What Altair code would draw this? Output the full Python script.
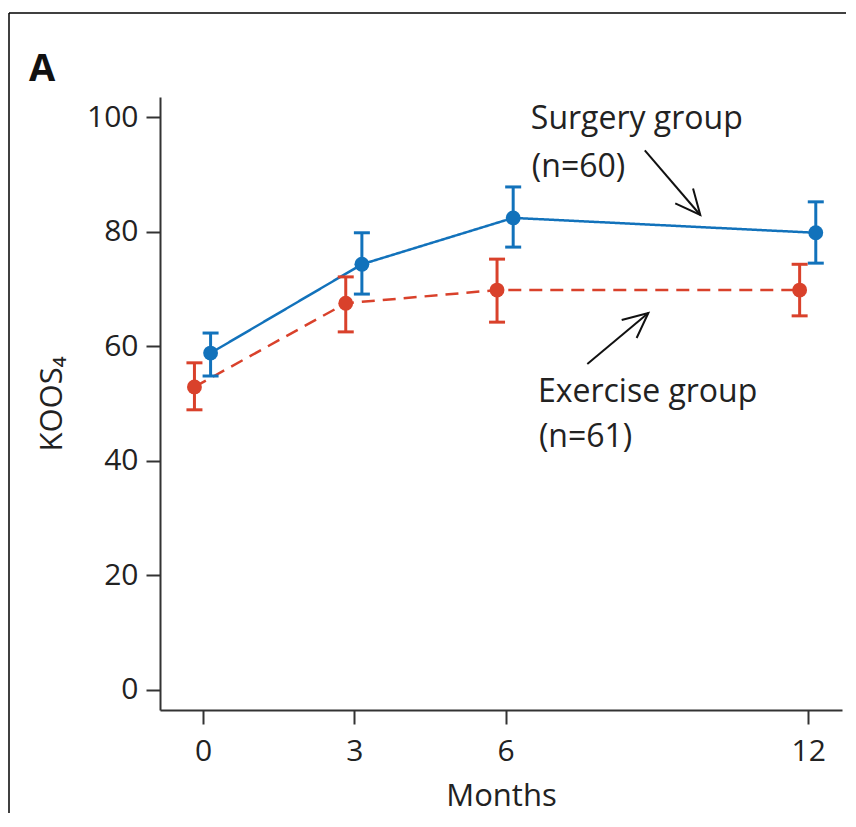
import altair as alt
import pandas as pd

# ---- data ----
months = [0, 3, 6, 12]
groups = ["Surgery group", "Exercise group"]
surgery_mean = [58.8, 74.3, 82.4, 79.8]
surgery_hi = [62.3, 79.8, 87.8, 85.2]
surgery_lo = [54.8, 69.1, 77.3, 74.5]
exercise_mean = [52.9, 67.5, 69.8, 69.8]
exercise_hi = [57.1, 72.1, 75.2, 74.3]
exercise_lo = [48.9, 62.5, 64.2, 65.3]

x_ticks = [0, 3, 6, 12]
y_ticks = [0, 20, 40, 60, 80, 100]

ann_text = ["Surgery group", "(n=60)", "Exercise group", "(n=61)"]
ann_x = [6.50, 6.52, 6.64, 6.66]
ann_y = [97.9, 89.5, 50.3, 42.4]

arrow_x = [8.76, 7.62]
arrow_y = [94.2, 56.9]
arrow_x2 = [9.86, 8.83]
arrow_y2 = [82.9, 65.8]

# ---- styling ----
BLUE = "#1272bb"
RED = "#d9412b"
FONT = "Open Sans"
dodge = {"Surgery group": 0.15, "Exercise group": -0.17}
arrow_angles = [49.8, 320.1]

rows = []
for g, mean, hi, lo in [
    ("Surgery group", surgery_mean, surgery_hi, surgery_lo),
    ("Exercise group", exercise_mean, exercise_hi, exercise_lo),
]:
    for m, a, h, l in zip(months, mean, hi, lo):
        rows.append({"group": g, "month": m, "x": m + dodge[g], "mean": a, "hi": h, "lo": l})
df = pd.DataFrame(rows)

ann = pd.DataFrame({"text": ann_text, "x": ann_x, "y": ann_y})
arrows = pd.DataFrame({"x": arrow_x, "y": arrow_y, "x2": arrow_x2, "y2": arrow_y2,
                       "angle": arrow_angles})

xscale = alt.Scale(domain=[-0.853, 12.67], nice=False, zero=False)
yscale = alt.Scale(domain=[-3.5, 103.5], nice=False, zero=False)
xaxis = alt.Axis(values=x_ticks, title="Months", labelPadding=12, titlePadding=15,
                 titleFontSize=31)
yaxis = alt.Axis(values=y_ticks, title="KOOS₄", labelPadding=8, titlePadding=18)

color = alt.Color("group:N", scale=alt.Scale(domain=groups, range=[BLUE, RED]), legend=None)
dash = alt.StrokeDash("group:N", scale=alt.Scale(domain=groups, range=[[1, 0], [13, 8]]),
                      legend=None)

lines = alt.Chart(df).mark_line(strokeWidth=2.5).encode(
    x=alt.X("x:Q", scale=xscale, axis=xaxis),
    y=alt.Y("mean:Q", scale=yscale, axis=yaxis),
    color=color, strokeDash=dash, detail="group:N", order="month:Q",
)

bars = alt.Chart(df).mark_rule(strokeWidth=3, opacity=1).encode(
    x=alt.X("x:Q", scale=xscale, axis=xaxis),
    y=alt.Y("lo:Q", scale=yscale, axis=yaxis),
    y2="hi:Q",
    color=color,
)

caps = alt.Chart(df).transform_fold(["hi", "lo"], as_=["which", "cap"]).mark_tick(
    orient="horizontal", size=16, thickness=3, opacity=1
).encode(
    x=alt.X("x:Q", scale=xscale, axis=xaxis),
    y=alt.Y("cap:Q", scale=yscale, axis=yaxis),
    color=color,
)

points = alt.Chart(df).mark_circle(size=220, opacity=1).encode(
    x=alt.X("x:Q", scale=xscale, axis=xaxis),
    y=alt.Y("mean:Q", scale=yscale, axis=yaxis),
    color=color,
)

labels = alt.Chart(ann).mark_text(
    align="left", baseline="alphabetic", font=FONT, fontSize=32, color="#222"
).encode(
    x=alt.X("x:Q", scale=xscale, axis=xaxis),
    y=alt.Y("y:Q", scale=yscale, axis=yaxis),
    text="text:N",
)

shafts = alt.Chart(arrows).mark_rule(strokeWidth=2, color="#111").encode(
    x=alt.X("x:Q", scale=xscale, axis=xaxis),
    y=alt.Y("y:Q", scale=yscale, axis=yaxis),
    x2="x2:Q", y2="y2:Q",
)

heads = alt.Chart(arrows).mark_point(
    shape="M-1,-0.466L0,0L-1,0.466", filled=False, stroke="#111", strokeWidth=2,
    size=2500, opacity=1
).encode(
    x=alt.X("x2:Q", scale=xscale, axis=xaxis),
    y=alt.Y("y2:Q", scale=yscale, axis=yaxis),
    angle=alt.Angle("angle:Q", scale=None),
)

one = alt.Data(values=[{"k": 1}])
frame_left = alt.Chart(one).mark_rule(strokeWidth=1.5, color="#000").encode(
    x=alt.value(-151), y=alt.value(-84), y2=alt.value(716)
)
frame_top = alt.Chart(one).mark_rule(strokeWidth=1.5, color="#000").encode(
    x=alt.value(-151), x2=alt.value(686), y=alt.value(-84)
)
panel = alt.Chart(one).mark_text(
    text="A", align="left", baseline="middle", font=FONT, fontSize=38,
    fontWeight="bold", color="#111"
).encode(x=alt.value(-131), y=alt.value(-27))

chart = alt.layer(
    lines, bars, caps, points, labels, shafts, heads, frame_left, frame_top, panel
).properties(
    width=682, height=613,
    padding={"left": 0, "top": 4, "right": 0, "bottom": 0},
    background="white",
).configure_view(stroke=None).configure_axis(
    grid=False,
    domainColor="#333", domainWidth=2,
    tickColor="#333", tickWidth=2, tickSize=14,
    labelFont=FONT, labelFontSize=30, labelColor="#222",
    titleFont=FONT, titleFontSize=31, titleFontWeight="normal", titleColor="#222",
)

chart.save("out.html", embed_options={"renderer": "svg", "actions": False})
